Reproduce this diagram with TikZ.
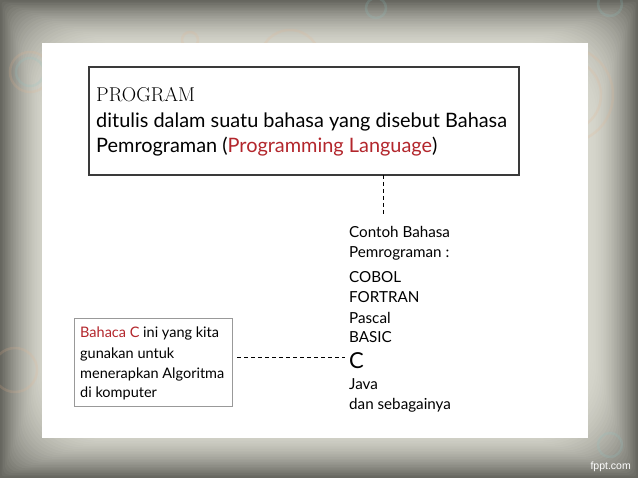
\documentclass[tikz,border=0pt]{standalone}
\usepackage{fontspec}
\newfontfamily\comic{Lato}
\newfontfamily\fsans{Liberation Sans}
\definecolor{redtxt}{HTML}{B3262C}
\definecolor{boxline}{HTML}{3A3A3A}
\definecolor{bgdark}{HTML}{66665F}
\definecolor{bglight}{HTML}{D6D6CC}
\definecolor{ringA}{HTML}{E8B48C}
\definecolor{ringB}{HTML}{8CC8C8}
\begin{document}
\begin{tikzpicture}[x=1pt,y=-1pt,
  txt/.style={inner sep=0pt, anchor=base west, font=\comic},
  ring/.style={line width=2.5pt, opacity=0.18},
  dashline/.style={draw=black, line width=0.8pt, dash pattern=on 4pt off 3pt}]
\useasboundingbox (0,0) rectangle (638,478);
% vignette background
\foreach \i in {0,...,29}{
  \pgfmathsetmacro\p{100*(1-\i/29)^1.6}
  \pgfmathsetmacro\d{\i*1.6}
  \pgfmathsetmacro\r{\i*2.8+0.1}
  \fill[bgdark!\p!bglight, rounded corners=\r pt] (\d,\d) rectangle (638-\d,478-\d);
}
% faint decorative rings
\draw[ring, ringA] (30,72) circle (20);
\draw[ring, ringB] (30,72) circle (14);
\draw[ring, ringB] (376,8) circle (10);
\draw[ring, ringB] (610,4) circle (12);
\draw[ring, ringA] (565,95) circle (48);
\draw[ring, ringA] (565,95) circle (36);
\draw[ring, ringA] (290,60) circle (30);
\draw[ring, ringA] (190,40) circle (8);
\draw[ring, ringA] (15,370) circle (22);
\draw[ring, ringB] (610,445) circle (12);
% white slide
\fill[white] (42,43) rectangle (588,438);
% top box
\draw[boxline, line width=1.4pt] (89,67) rectangle (519,175);
\node[coordinate] (topB) at (383,175) {};
\node[txt, font=\fontsize{20}{22}\selectfont] (prog) at (96,102) {PROGRAM};
\node[txt, font=\comic\fontsize{19.9}{22}\selectfont] (l2) at (96,128) {ditulis dalam suatu bahasa yang disebut Bahasa};
\node[txt, font=\comic\fontsize{19.9}{22}\selectfont] (l3) at (96,153) {Pemrograman (\textcolor{redtxt}{Programming Language})};
% vertical dashed connector
\node[coordinate] (listTop) at (383,214) {};
\draw[dashline] (topB) -- (listTop);
% right list
\begin{scope}[every node/.style={txt, font=\comic\fontsize{15.2}{17}\selectfont}]
\node (r1) at (349,238) {Contoh Bahasa};
\node (r2) at (349,258) {Pemrograman :};
\node (r3) at (349,283) {COBOL};
\node (r4) at (349,303) {FORTRAN};
\node (r5) at (349,324) {Pascal};
\node (r6) at (349,343) {BASIC};
\node[font=\comic\fontsize{22}{24}\selectfont] (rC) at (349,369) {C};
\node (r7) at (349,390) {Java};
\node (r8) at (349,410) {dan sebagainya};
\end{scope}
% left box
\draw[draw=gray!80, line width=0.7pt] (74,318) rectangle (232,406);
\node[coordinate] (leftR) at (237,357) {};
\node[coordinate] (cL) at (345,357) {};
\begin{scope}[every node/.style={txt, font=\comic\fontsize{14.5}{16}\selectfont}]
\node (b1) at (80,338) {\textcolor{redtxt}{Bahaca C} ini yang kita};
\node (b2) at (80,359) {gunakan untuk};
\node (b3) at (80,379) {menerapkan Algoritma};
\node (b4) at (80,398) {di komputer};
\end{scope}
\draw[dashline] (leftR) -- (cL);
% footer
\node[inner sep=0pt, anchor=base east, font=\fsans\fontsize{10.5}{12}\selectfont, text=white] (fppt) at (631,470) {fppt.com};
\end{tikzpicture}
\end{document}
